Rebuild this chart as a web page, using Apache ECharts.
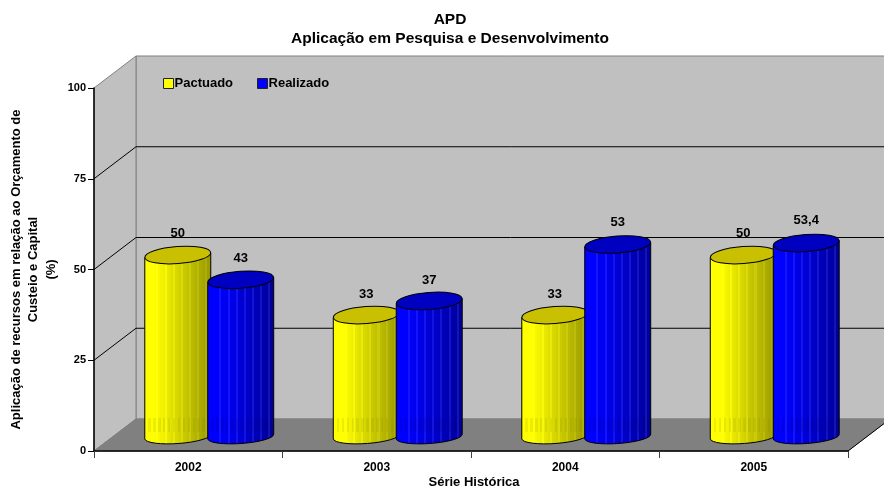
<!DOCTYPE html>
<html lang="en">
<head>
<meta charset="UTF-8" />
<title>APD</title>
<script src="https://cdn.jsdelivr.net/npm/echarts@6/dist/echarts.min.js"></script>
<style>
html, body { margin: 0; padding: 0; background: #fff; }
#main { width: 884px; height: 495px; }
</style>
</head>
<body>
<div id="main"></div>
<script type="text/javascript">
var categories = ['2002', '2003', '2004', '2005'];
var pactuado = [50, 33, 33, 50];
var realizado = [43, 37, 53, 53.4];
var yTicks = [0, 25, 50, 75, 100];

var fontName = '"Liberation Sans", Arial, sans-serif';
// deslocamento da profundidade 3D
var depthX = 42, depthY = 32;

// faixas verticais do cilindro: claro a esquerda, escuro a direita
function stripes(r, g, b, lineBoost) {
    var stops = [];
    var n = 33;
    for (var i = 0; i < n; i++) {
        var t = i / (n - 1);
        var k = t < 0.15 ? 1 : 1 - (t - 0.15) * 0.47;
        var extra = (i % 4 === 2 && i > 3) ? lineBoost : 0;
        var c = 'rgb(' + Math.min(255, Math.round(r * k + extra)) + ',' + Math.min(255, Math.round(g * k + extra)) + ',' + Math.min(255, Math.round(b * k + extra)) + ')';
        stops.push({ offset: i / n, color: c });
        stops.push({ offset: (i + 1) / n, color: c });
    }
    return { type: 'linear', x: 0, y: 0, x2: 1, y2: 0, colorStops: stops };
}
var yellowBody = stripes(255, 255, 0, 12);
var blueBody = stripes(0, 0, 255, 20);

// linhas finas na parte de baixo, sobre o piso
function floorStripes(color) {
    var stops = [];
    var n = 26;
    for (var i = 0; i < n; i++) {
        var c = i % 2 === 1 ? color : 'rgba(0,0,0,0)';
        stops.push({ offset: i / n, color: c });
        stops.push({ offset: (i + 1) / n, color: c });
    }
    return { type: 'linear', x: 0, y: 0, x2: 1, y2: 0, colorStops: stops };
}

function cylinder(side, bodyFill, topFill, floorFill) {
    return function (params, api) {
        var i = api.value(0);
        var band = api.size([1, 0])[0];
        var w = band * 0.35;
        var rx = w / 2;
        var ry = 8.5;
        var zero = api.coord([i, 0]);
        var top = api.coord([i, api.value(1)]);
        var cx = zero[0] + depthX / 2 + side * band * 0.167;
        var topY = zero[1] - 19.5 - (zero[1] - top[1]) * 0.972;
        var bottomY = zero[1] - 14.5;
        var tilt = 0.075;
        var skew = rx * Math.sin(tilt);
        var lx = cx - rx, rightX = cx + rx;
        var body = 'M' + lx + ' ' + (topY + skew) +
            'L' + lx + ' ' + (bottomY + skew) +
            'A' + rx + ' 7 -4 0 0 ' + rightX + ' ' + (bottomY - skew) +
            'L' + rightX + ' ' + (topY - skew) + 'Z';
        var label = String(api.value(1)).replace('.', ',');
        return {
            type: 'group',
            children: [
                {
                    type: 'path',
                    shape: { pathData: body },
                    style: { fill: bodyFill, stroke: '#000', lineWidth: 1 }
                },
                {
                    type: 'rect',
                    shape: { x: lx + 1, y: zero[1] - depthY - 1, width: w - 2, height: depthY - 18 },
                    style: { fill: floorFill }
                },
                {
                    type: 'ellipse',
                    shape: { cx: cx, cy: topY, rx: rx, ry: ry },
                    rotation: tilt,
                    originX: cx,
                    originY: topY,
                    style: { fill: topFill, stroke: '#000', lineWidth: 1 }
                },
                {
                    type: 'text',
                    style: {
                        x: cx, y: top[1] - 36.5, text: label, align: 'center', verticalAlign: 'middle',
                        fill: '#000', font: 'bold 13px ' + fontName
                    }
                }
            ]
        };
    };
}

// paredes e piso do grafico
function renderFrame(params, api) {
    var s = params.coordSys;
    var l = s.x, r = s.x + s.width, t = s.y, b = s.y + s.height;
    var children = [
        { type: 'polygon', shape: { points: [[l + depthX, t - depthY], [r + depthX, t - depthY], [r + depthX, b - depthY], [l + depthX, b - depthY]] }, style: { fill: '#c0c0c0', stroke: '#808080', lineWidth: 1 } },
        { type: 'polygon', shape: { points: [[l, t], [l + depthX, t - depthY], [l + depthX, b - depthY], [l, b]] }, style: { fill: '#c0c0c0', stroke: '#808080', lineWidth: 1 } },
        { type: 'polygon', shape: { points: [[l, b], [l + depthX, b - depthY], [r + depthX, b - depthY], [r, b]] }, style: { fill: '#808080', stroke: '#808080', lineWidth: 1 } },
        { type: 'line', shape: { x1: r, y1: b, x2: r + depthX, y2: b - depthY }, style: { stroke: '#000', lineWidth: 1 } }
    ];
    yTicks.forEach(function (v) {
        if (v === 0 || v === 100) return;
        var y = api.coord([0, v])[1];
        children.push({ type: 'polyline', shape: { points: [[l, y], [l + depthX, y - depthY], [r + depthX, y - depthY]] }, style: { fill: 'none', stroke: '#000', lineWidth: 1 } });
    });
    return { type: 'group', children: children };
}

var myChart = echarts.init(document.getElementById('main'));

var options = {
    animation: false,
    backgroundColor: '#fff',
    textStyle: { fontFamily: fontName },
    title: {
        text: 'APD\nAplicação em Pesquisa e Desenvolvimento',
        left: 445,
        top: 5,
        textAlign: 'center',
        textStyle: { fontSize: 15.5, fontWeight: 'bold', color: '#000', lineHeight: 19, fontFamily: fontName }
    },
    legend: {
        left: 158,
        top: 72,
        itemWidth: 10,
        itemHeight: 10,
        itemGap: 24,
        itemStyle: { borderColor: '#222', borderWidth: 1 },
        textStyle: { fontSize: 13, fontWeight: 'bold', color: '#000', fontFamily: fontName, padding: [0, 0, 0, -4] },
        data: [
            { name: 'Pactuado', icon: 'rect', itemStyle: { color: '#ffff00' } },
            { name: 'Realizado', icon: 'rect', itemStyle: { color: '#0000ff' } }
        ]
    },
    grid: { left: 94, right: 36, top: 88, bottom: 44, outerBoundsMode: 'none' },
    xAxis: {
        type: 'category',
        data: categories,
        name: 'Série Histórica',
        nameLocation: 'middle',
        nameGap: 25,
        nameMoveOverlap: false,
        nameTextStyle: { fontSize: 13, fontWeight: 'bold', color: '#000', padding: [0, 0, 0, 6] },
        axisLine: { lineStyle: { color: '#000', width: 1.5 } },
        axisTick: { show: true, length: 7, lineStyle: { color: '#404040' } },
        axisLabel: { fontSize: 12, fontWeight: 'bold', color: '#000', margin: 11 },
        splitLine: { show: false },
        z: 5
    },
    yAxis: {
        type: 'value',
        min: 0,
        max: 100,
        interval: 25,
        name: 'Aplicação de recursos em relação ao Orçamento de\nCusteio e Capital\n(%)',
        nameLocation: 'middle',
        nameGap: 34,
        nameMoveOverlap: false,
        nameRotate: 90,
        nameTextStyle: { fontSize: 13, fontWeight: 'bold', color: '#000', lineHeight: 17.5 },
        axisLine: { show: true, lineStyle: { color: '#000', width: 1.5 } },
        axisTick: { show: true, length: 6, lineStyle: { color: '#000' } },
        axisLabel: { fontSize: 11, fontWeight: 'bold', color: '#000', margin: 8 },
        splitLine: { show: false },
        z: 5
    },
    series: [
        {
            type: 'custom',
            name: 'frame',
            silent: true,
            z: 1,
            renderItem: renderFrame,
            data: [[0, 0]],
            encode: { x: 0, y: 1 }
        },
        {
            type: 'custom',
            name: 'Pactuado',
            z: 2,
            itemStyle: { color: '#ffff00' },
            renderItem: cylinder(-1, yellowBody, '#c8c000', floorStripes('rgba(120,120,0,0.13)')),
            data: categories.map(function (c, i) { return [i, pactuado[i]]; }),
            encode: { x: 0, y: 1 }
        },
        {
            type: 'custom',
            name: 'Realizado',
            z: 3,
            itemStyle: { color: '#0000ff' },
            renderItem: cylinder(1, blueBody, '#0000c0', floorStripes('rgba(0,0,80,0.13)')),
            data: categories.map(function (c, i) { return [i, realizado[i]]; }),
            encode: { x: 0, y: 1 }
        }
    ]
};
myChart.setOption(options);
</script>
</body>
</html>
